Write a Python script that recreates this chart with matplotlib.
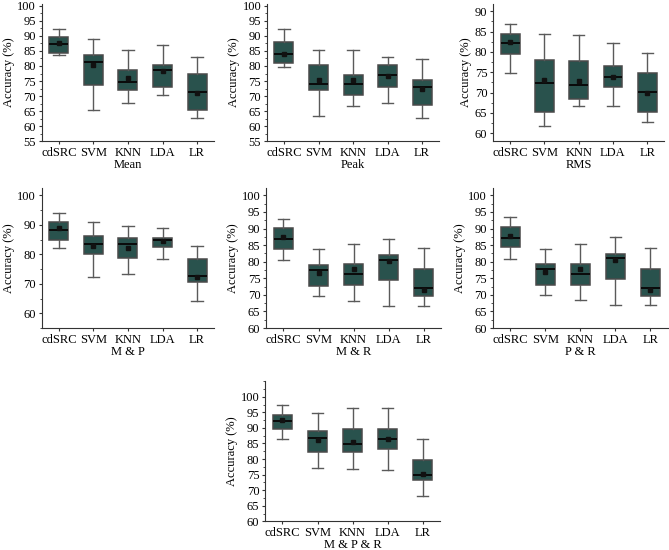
import matplotlib.pyplot as plt
import numpy as np
from matplotlib.ticker import MultipleLocator

plt.rcParams['font.family'] = 'serif'
plt.rcParams['font.serif'] = ['Liberation Serif', 'DejaVu Serif']

methods = ['cdSRC', 'SVM', 'KNN', 'LDA', 'LR']

# per panel: whisker low, q1, median, q3, whisker high, mean
mean_low = [83.6, 65.3, 67.6, 70.3, 62.6]
mean_q1 = [84.4, 73.7, 71.9, 72.9, 65.3]
mean_med = [87.2, 81.3, 74.7, 78.7, 71.4]
mean_q3 = [89.7, 83.8, 78.5, 80.3, 77.5]
mean_high = [92.3, 88.8, 85.4, 87.0, 82.9]
mean_avg = [87.5, 80.2, 76.1, 78.4, 71.0]

peak_low = [79.5, 63.4, 66.7, 67.7, 62.8]
peak_q1 = [81.1, 71.9, 70.3, 72.9, 67.1]
peak_med = [83.9, 74.0, 73.9, 77.0, 72.9]
peak_q3 = [87.8, 80.3, 77.0, 80.3, 75.2]
peak_high = [92.3, 85.4, 85.4, 82.9, 82.2]
peak_avg = [84.1, 75.2, 75.2, 76.6, 72.3]

rms_low = [74.8, 61.8, 66.7, 66.7, 62.7]
rms_q1 = [79.4, 65.2, 68.3, 71.4, 65.2]
rms_med = [82.1, 72.3, 71.8, 73.9, 70.2]
rms_q3 = [84.4, 78.0, 77.8, 76.6, 74.9]
rms_high = [86.8, 84.4, 84.2, 82.1, 79.6]
rms_avg = [82.4, 73.2, 72.8, 73.8, 69.8]

mp_low = [82.2, 72.4, 73.5, 78.5, 64.2]
mp_q1 = [84.7, 80.2, 78.7, 82.5, 70.7]
mp_med = [88.2, 83.5, 83.5, 84.9, 72.8]
mp_q3 = [91.0, 86.3, 85.6, 85.6, 78.4]
mp_high = [93.9, 90.9, 89.6, 89.1, 83.0]
mp_avg = [88.8, 82.8, 82.1, 84.6, 72.4]

mr_low = [80.6, 69.8, 68.0, 66.7, 66.6]
mr_q1 = [83.8, 72.7, 73.0, 74.5, 69.8]
mr_med = [86.9, 77.6, 76.3, 80.6, 72.0]
mr_q3 = [90.1, 79.0, 79.2, 81.9, 77.7]
mr_high = [93.0, 83.8, 85.4, 86.9, 84.0]
mr_avg = [87.3, 76.7, 77.7, 80.3, 71.4]

pr_low = [80.9, 70.0, 68.5, 67.0, 67.0]
pr_q1 = [84.3, 72.9, 73.0, 74.8, 69.8]
pr_med = [87.2, 77.7, 76.3, 81.0, 72.0]
pr_q3 = [90.4, 79.2, 79.2, 82.4, 77.7]
pr_high = [93.4, 83.9, 85.4, 87.4, 84.0]
pr_avg = [87.6, 77.0, 77.7, 80.6, 71.5]

mpr_low = [86.5, 77.0, 76.8, 76.5, 68.3]
mpr_q1 = [89.8, 82.3, 82.3, 83.1, 73.3]
mpr_med = [92.3, 86.6, 84.9, 86.5, 74.9]
mpr_q3 = [94.0, 89.0, 89.7, 89.8, 79.8]
mpr_high = [97.5, 94.9, 96.3, 96.3, 86.4]
mpr_avg = [92.6, 86.0, 85.6, 86.4, 75.3]

panels = [
    ('Mean', mean_low, mean_q1, mean_med, mean_q3, mean_high, mean_avg),
    ('Peak', peak_low, peak_q1, peak_med, peak_q3, peak_high, peak_avg),
    ('RMS', rms_low, rms_q1, rms_med, rms_q3, rms_high, rms_avg),
    ('M & P', mp_low, mp_q1, mp_med, mp_q3, mp_high, mp_avg),
    ('M & R', mr_low, mr_q1, mr_med, mr_q3, mr_high, mr_avg),
    ('P & R', pr_low, pr_q1, pr_med, pr_q3, pr_high, pr_avg),
    ('M & P & R', mpr_low, mpr_q1, mpr_med, mpr_q3, mpr_high, mpr_avg),
]

# axes placement (fraction of figure), y-limits and tick steps
rects = [
    [0.0623, 0.743, 0.258, 0.250],
    [0.3987, 0.743, 0.258, 0.250],
    [0.737, 0.743, 0.256, 0.250],
    [0.0623, 0.4036, 0.258, 0.2545],
    [0.3975, 0.4036, 0.262, 0.2545],
    [0.7365, 0.4036, 0.262, 0.2545],
    [0.396, 0.052, 0.262, 0.255],
]
ylims = [(55, 100.6), (55, 100.6), (58, 91.8), (55, 102.5), (60, 102.2), (60, 102.2), (60, 105)]
ytick_start = [55, 55, 60, 60, 60, 60, 60]
yticks_top = [100, 100, 90, 100, 100, 100, 100]
major = [5, 5, 5, 10, 5, 5, 5]
minor = [2.5, 2.5, 2.5, 5, 2.5, 2.5, 2.5]

box_face = '#29524d'

fig = plt.figure(figsize=(6.69, 5.5), dpi=100)

for i, (name, lo, q1, med, q3, hi, avg) in enumerate(panels):
    ax = fig.add_axes(rects[i])
    stats = []
    for j in range(len(methods)):
        stats.append({'whislo': lo[j], 'q1': q1[j], 'med': med[j], 'q3': q3[j],
                      'whishi': hi[j], 'mean': avg[j], 'fliers': [], 'label': methods[j]})
    ax.bxp(stats, positions=np.arange(len(methods)), widths=0.55, patch_artist=True,
           showmeans=True, showfliers=False,
           boxprops=dict(facecolor=box_face, edgecolor='#4a4a4a', linewidth=1.1),
           medianprops=dict(color='#0a0a0a', linewidth=1.4),
           whiskerprops=dict(color='#5a5a5a', linewidth=1.0),
           capprops=dict(color='#5a5a5a', linewidth=1.0),
           capwidths=0.33,
           meanprops=dict(marker='s', markersize=2.2, markerfacecolor='#111111',
                          markeredgecolor='#111111'))
    ax.set_xlim(-0.5, 4.5)
    ax.set_ylim(*ylims[i])
    ax.set_yticks(np.arange(ytick_start[i], yticks_top[i] + 0.1, major[i]))
    ax.yaxis.set_minor_locator(MultipleLocator(minor[i]))
    ax.spines['top'].set_visible(False)
    ax.spines['right'].set_visible(False)
    ax.spines['left'].set_color('#333333')
    ax.spines['bottom'].set_color('#333333')
    ax.tick_params(axis='both', labelsize=9, length=2.5, color='#333333', pad=1.5)
    ax.tick_params(axis='y', which='minor', length=1.5, color='#333333')
    ax.set_xlabel(name, fontsize=9, labelpad=0)
    ax.set_ylabel('Accuracy (%)', fontsize=9, labelpad=2)

fig.savefig('out.png', dpi=100)
